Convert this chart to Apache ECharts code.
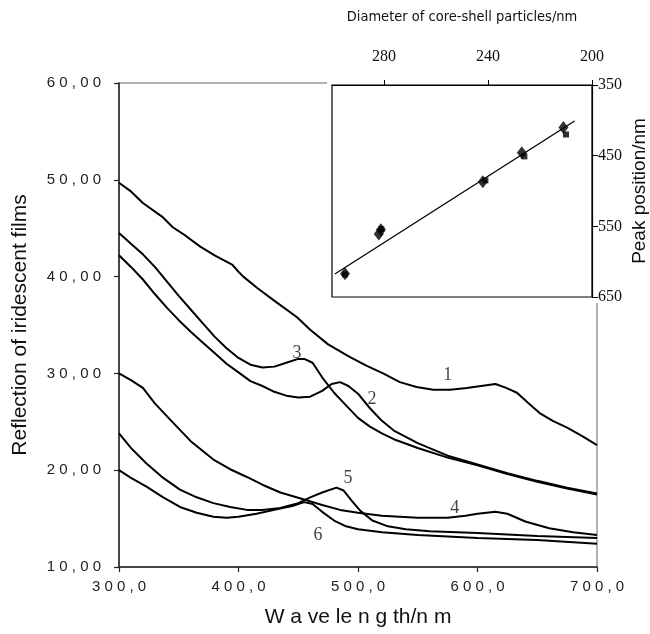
<!DOCTYPE html>
<html>
<head>
<meta charset="utf-8">
<script src="https://cdn.jsdelivr.net/npm/echarts@6/dist/echarts.min.js"></script>
<style>
html,body{margin:0;padding:0;background:#fff;}
#chart{width:650px;height:634px;}
</style>
</head>
<body>
<div id="chart"></div>
<script>
// ---- Main chart data (wavelength nm, reflection) ----
const curve1 = [[300,49.7],[310,48.8],[320,47.6],[336,46.2],[345,45.1],[356,44.2],[368,43.1],[380,42.2],[395,41.2],[400,40.5],[404,40.0],[416,38.8],[429,37.6],[449,35.8],[460,34.5],[475,33.0],[493,31.7],[507,30.8],[521,30.0],[535,29.1],[549,28.6],[563,28.3],[577,28.3],[591,28.5],[603,28.7],[615,28.9],[624,28.5],[633,28.0],[642,27.0],[652,25.9],[663,25.1],[675,24.4],[688,23.5],[700,22.6]];
const curve2 = [[300,42.2],[310,41.0],[320,39.7],[330,38.2],[340,36.8],[350,35.5],[360,34.3],[370,33.2],[380,32.1],[390,31.0],[400,30.1],[410,29.2],[420,28.7],[430,28.1],[440,27.7],[450,27.5],[460,27.6],[470,28.2],[478,28.9],[485,29.1],[492,28.7],[500,27.9],[510,26.4],[520,25.1],[530,24.1],[550,22.8],[575,21.5],[600,20.6],[625,19.7],[650,18.9],[675,18.2],[700,17.6]];
const curve3 = [[300,44.5],[310,43.4],[320,42.3],[330,41.0],[340,39.5],[350,38.0],[360,36.6],[370,35.2],[380,33.8],[390,32.6],[400,31.6],[410,30.9],[420,30.6],[430,30.7],[440,31.1],[450,31.5],[455,31.5],[462,31.1],[470,29.6],[480,28.0],[490,26.7],[500,25.4],[510,24.5],[520,23.8],[530,23.2],[550,22.3],[575,21.3],[600,20.5],[625,19.6],[650,18.8],[675,18.1],[700,17.5]];
const curve4 = [[300,30.0],[310,29.3],[320,28.5],[330,26.9],[343,25.2],[360,23.0],[379,21.1],[393,20.1],[407,19.3],[420,18.5],[435,17.7],[457,16.9],[470,16.4],[485,15.9],[500,15.6],[520,15.3],[550,15.1],[575,15.1],[590,15.3],[600,15.5],[615,15.7],[625,15.5],[640,14.7],[660,14.0],[680,13.6],[700,13.3]];
const curve5 = [[300,23.8],[310,22.3],[323,20.7],[337,19.2],[351,18.0],[365,17.2],[379,16.6],[393,16.2],[407,15.9],[420,15.9],[435,16.1],[450,16.6],[460,17.2],[470,17.7],[482,18.2],[488,17.9],[495,16.8],[502,15.8],[512,14.8],[525,14.2],[540,13.9],[560,13.7],[600,13.5],[650,13.2],[700,13.0]];
const curve6 = [[300,20.0],[310,19.2],[323,18.3],[337,17.2],[351,16.2],[365,15.6],[379,15.2],[390,15.1],[400,15.2],[415,15.5],[430,15.9],[445,16.3],[455,16.7],[462,16.5],[470,15.7],[480,14.8],[490,14.2],[500,13.9],[520,13.6],[550,13.3],[600,13.0],[650,12.8],[700,12.4]];

const curveLabelNames = ['1','2','3','4','5','6'];
const curveLabelPos = [[575,29.8],[511.7,27.3],[449,32.1],[581,16.1],[491.6,19.2],[466.5,13.3]];

const mainXTicks = [300,400,500,600,700];
const mainYTicks = [10,20,30,40,50,60];

// ---- Inset data (diameter nm, peak position nm) ----
const insetDiamonds = [[295,617],[282,561],[281.2,555],[242,487],[227,446],[211,410]];
const insetSquares = [[295,618],[281,554],[241,485],[226,451],[210,420]];
const insetFit = [[298.9,617.5],[206.7,401]];
const insetXTicks = [200,240,280];
const insetYTicks = [350,450,550,650];

const sans = '"Liberation Sans", Arial, sans-serif';
const serif = '"Liberation Serif", "Times New Roman", serif';
const narrow = '"Liberation Sans Narrow", "DejaVu Sans Condensed", "Liberation Sans", sans-serif';

function spaced(s){ return s.split('').join(' '); }

const chart = echarts.init(document.getElementById('chart'), null, {renderer:'canvas'});

const lineStyleMain = {color:'#000', width:2};
function mk(name, data){
  return {type:'line', name, data, xAxisIndex:0, yAxisIndex:0, showSymbol:false, symbol:'none',
    lineStyle:lineStyleMain, itemStyle:{color:'#000'}, z:2, animation:false};
}

const option = {
  animation:false,
  backgroundColor:'#fff',
  graphic:[{type:'rect', shape:{x:327, y:78, width:274, height:225}, style:{fill:'#fff'}, z:5, silent:true}],
  grid:[
    {left:119, right:53, top:83, bottom:67, show:true, borderColor:'#999', borderWidth:1.5, backgroundColor:'transparent', z:0},
    {left:332, right:55, top:85, bottom:337, show:true, borderColor:'#000', borderWidth:1.2, backgroundColor:'transparent', z:6}
  ],
  xAxis:[
    {type:'value', gridIndex:0, min:300, max:700, interval:100,
      axisLine:{show:true, onZero:false, lineStyle:{color:'#222', width:1.5}},
      axisTick:{show:true, inside:false, length:5, lineStyle:{color:'#222', width:1.2}},
      splitLine:{show:false},
      axisLabel:{fontFamily:sans, fontSize:15, color:'#222', margin:12, formatter:v=>spaced(v.toFixed(1).replace('.',','))},
      name:'W a ve le n g th/n m', nameLocation:'middle', nameGap:40,
      nameTextStyle:{fontFamily:sans, fontSize:21, color:'#111'}},
    {type:'value', gridIndex:1, position:'top', min:200, max:300, inverse:true, z:7,
      axisLine:{show:true, onZero:false, lineStyle:{color:'#000', width:1.2}},
      axisTick:{show:true, inside:false, length:5, customValues:insetXTicks, lineStyle:{color:'#000'}},
      splitLine:{show:false},
      axisLabel:{fontFamily:serif, fontSize:16, color:'#111', margin:20, customValues:insetXTicks},
      name:'Diameter of core-shell particles/nm', nameLocation:'middle', nameGap:60,
      nameTextStyle:{fontFamily:narrow, fontSize:14.5, color:'#111'}},
  ],
  yAxis:[
    {type:'value', gridIndex:0, min:10, max:60, interval:10,
      axisLine:{show:true, onZero:false, lineStyle:{color:'#222', width:1.5}},
      axisTick:{show:true, inside:false, length:5, lineStyle:{color:'#222', width:1.2}},
      splitLine:{show:false},
      axisLabel:{fontFamily:sans, fontSize:15, color:'#222', margin:18, formatter:v=>spaced(v.toFixed(2).replace('.',','))},
      name:'Reflection of iridescent films', nameLocation:'middle', nameGap:88, nameRotate:90,
      nameTextStyle:{fontFamily:sans, fontSize:21, color:'#111'}},
    {type:'value', gridIndex:1, position:'right', min:350, max:650, inverse:true, z:7,
      axisLine:{show:true, onZero:false, lineStyle:{color:'#000', width:1.2}},
      axisTick:{show:true, inside:false, length:6, customValues:insetYTicks, lineStyle:{color:'#000'}},
      splitLine:{show:false},
      axisLabel:{fontFamily:serif, fontSize:16, color:'#111', margin:6, customValues:insetYTicks},
      name:'Peak position/nm', nameLocation:'middle', nameGap:38, nameRotate:90,
      nameTextStyle:{fontFamily:sans, fontSize:19, color:'#111'}}
  ],
  series:[
    mk('1', curve1), mk('2', curve2), mk('3', curve3), mk('4', curve4), mk('5', curve5), mk('6', curve6),
    {type:'scatter', name:'labels', xAxisIndex:0, yAxisIndex:0, symbolSize:0, z:3,
      data: curveLabelPos.map((p,i)=>({name:curveLabelNames[i], value:p})),
      label:{show:true, position:'inside', formatter:'{b}', fontFamily:serif, fontSize:18, color:'#111'}},
    {type:'line', name:'fit', xAxisIndex:1, yAxisIndex:1, data:insetFit, symbol:'none', showSymbol:false,
      lineStyle:{color:'#000', width:1.3}, z:8},
    {type:'scatter', name:'squares', xAxisIndex:1, yAxisIndex:1, data:insetSquares, symbol:'rect', symbolSize:6,
      itemStyle:{color:'#000'}, z:9},
    {type:'scatter', name:'diamonds', xAxisIndex:1, yAxisIndex:1, data:insetDiamonds, symbol:'diamond', symbolSize:[10,13],
      itemStyle:{color:'#000'}, z:10}
  ]
};
chart.setOption(option);
</script>
</body>
</html>
